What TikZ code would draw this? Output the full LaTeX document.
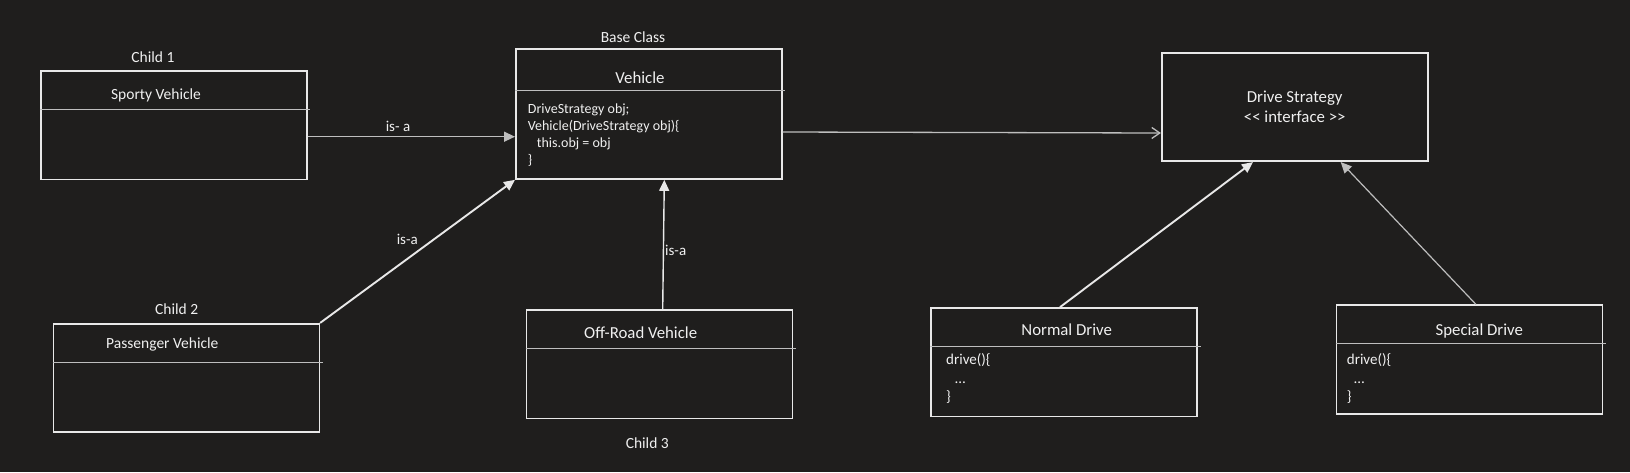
\documentclass[tikz,border=0pt]{standalone}
\usepackage{fontspec}
\setmainfont{Carlito}[Ligatures=TeXOff]
\usetikzlibrary{arrows.meta}
\definecolor{fondo}{RGB}{31,30,29}
\definecolor{trazo}{RGB}{232,232,232}
\definecolor{gris}{RGB}{190,190,190}
\definecolor{letra}{RGB}{240,240,240}
\tikzset{
  classbox/.style={draw=trazo, line width=1.6pt, minimum width=266pt, minimum height=108.5pt, inner sep=0pt},
  divider/.style={draw=gris, line width=1pt},
  classname/.style={text=letra, font=\fontsize{16.8}{20}\selectfont, inner sep=0pt},
  tag/.style={text=letra, font=\fontsize{15.5}{18}\selectfont, inner sep=0pt},
  codeline/.style={text=letra, font=\fontsize{14}{17}\selectfont, inner sep=0pt, anchor=base west},
  isa/.style={draw=trazo, line width=1.4pt, -{Triangle[length=11pt,width=10pt]}},
  uses/.style={draw=gris, line width=1.3pt, -{Straight Barb[length=8pt,width=11pt]}},
}
\begin{document}
\begin{tikzpicture}[x=1pt, y=-1pt]
  \fill[fondo] (0,0) rectangle (1630,472);
  % las cajas
  \node[classbox] (sporty) at (173.7,125.2) {};
  \node[classbox] (passenger) at (186.3,378) {};
  \node[classbox, minimum height=130pt] (vehicle) at (648.8,114) {};
  \node[classbox] (offroad) at (659.4,364.2) {};
  \node[classbox, align=center, text=letra, font=\fontsize{16.8}{20}\selectfont] (drive) at (1294.7,107) {Drive Strategy\\<< interface >>};
  \node[classbox] (normal) at (1064.2,362.2) {};
  \node[classbox] (special) at (1469.3,359.5) {};
  \foreach \b in {sporty,passenger,offroad,normal,special}
    \draw[divider] ([yshift=-39.3pt]\b.north west) -- ([xshift=2.5pt,yshift=-39.3pt]\b.north east);
  \draw[divider] ([yshift=-42pt]vehicle.north west) -- ([xshift=2pt,yshift=-42pt]vehicle.north east);
  % los nombres
  \node[classname, font=\fontsize{15.5}{18}\selectfont] (sportyname) at (156,95) {Sporty Vehicle};
  \node[classname, font=\fontsize{15.5}{18}\selectfont] (passengername) at (162.3,344) {Passenger Vehicle};
  \node[classname] (vehiclename) at (640,77.3) {Vehicle};
  \node[classname] (offroadname) at (640.7,332.3) {Off-Road Vehicle};
  \node[classname] (normalname) at (1066.7,329.3) {Normal Drive};
  \node[classname] (specialname) at (1479.3,330.7) {Special Drive};
  \node[tag] (child1) at (153,56.7) {Child 1};
  \node[tag] (baseclass) at (633,37.3) {Base Class};
  \node[tag] (child2) at (176.7,309) {Child 2};
  \node[tag] (child3) at (647.3,442.7) {Child 3};
  % el codigo
  \node[codeline] (vcode1) at (527.7,113.8) {DriveStrategy obj;};
  \node[codeline] (vcode2) at (527.7,130.7) {Vehicle(DriveStrategy obj)\{};
  \node[codeline] (vcode3) at (536.7,147.6) {this.obj = obj};
  \node[codeline] (vcode4) at (527.7,164.5) {\}};
  \node[codeline, font=\fontsize{15}{18}\selectfont] (ncode1) at (946,364.5) {drive()\{};
  \node[codeline, font=\fontsize{15}{18}\selectfont] (ncode2) at (955,383) {…};
  \node[codeline, font=\fontsize{15}{18}\selectfont] (ncode3) at (946,401.5) {\}};
  \node[codeline, font=\fontsize{15}{18}\selectfont] (scode1) at (1346.7,364.5) {drive()\{};
  \node[codeline, font=\fontsize{15}{18}\selectfont] (scode2) at (1354,383) {…};
  \node[codeline, font=\fontsize{15}{18}\selectfont] (scode3) at (1346.7,401.5) {\}};
  % las flechas
  \draw[isa, draw=gris] ([yshift=-11.5pt]sporty.east) -- ([yshift=-22.7pt]vehicle.west);
  \draw[isa, line width=1.9pt] (passenger.north east) -- (vehicle.south west);
  \draw[isa] ([xshift=3.3pt]offroad.north) -- ([xshift=15.5pt]vehicle.south);
  \draw[uses] ([yshift=-18pt]vehicle.east) -- ([yshift=-26pt]drive.west);
  \draw[isa, line width=1.9pt] ([xshift=-4.2pt]normal.north) -- ([xshift=-41.7pt]drive.south);
  \draw[isa, draw=gris, line width=1.2pt] ([xshift=6.7pt]special.north) -- ([xshift=46pt]drive.south);
  \node[tag, font=\fontsize{15}{18}\selectfont] (isa1) at (398,126) {is- a};
  \node[tag, font=\fontsize{15}{18}\selectfont] (isa2) at (407.3,239.3) {is-a};
  \node[tag, font=\fontsize{15}{18}\selectfont] (isa3) at (675.7,250.5) {is-a};
\end{tikzpicture}
\end{document}
